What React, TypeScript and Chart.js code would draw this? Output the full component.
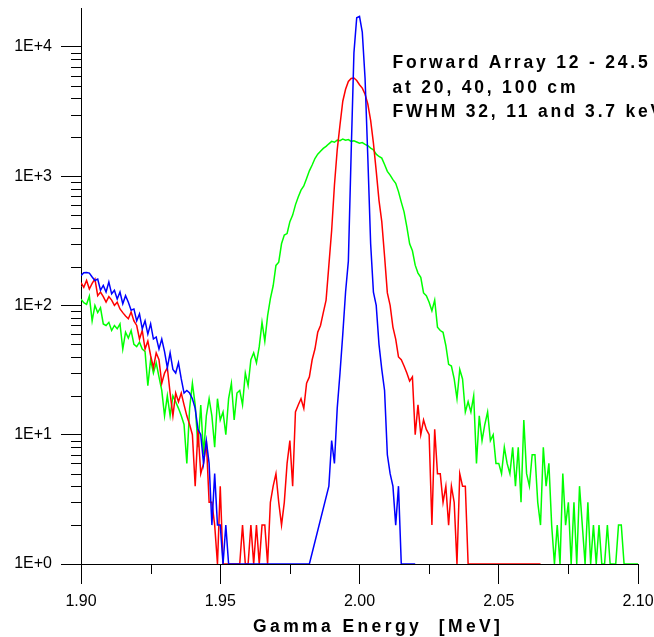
import React, { useEffect, useRef } from "react";
import { Chart, registerables } from "chart.js";

Chart.register(...registerables);

// Spectra: counts per 1 keV bin, first bin at 1.900 MeV
const BIN_START = 1.9;
const BIN_WIDTH = 0.001;

// 20 cm, FWHM 3.7 keV (blue)
const blueCounts: (number | null)[] = [
  170, 179, 180, 178, 166, 156, 160, 131, 143, 127,
  152, 123, 131, 112, 127, 103, 119, 106, 92, 94,
  76, 86, 66, 76, 60, 72, 55, 57, 46, 55,
  44, 33, 43, 32, 30, 36, 27, 21, 22, 21,
  19, 16, 11, 10, 6, 9, 6, 2, 5, 2,
  2, 1, 2, 1, 1, 1, 1, 1, 1, 1,
  1, 1, 1, 1, 1, 1, 1, 1, 1, 1,
  1, 1, 1, 1, 1, 1, 1, 1, 1, 1,
  1, 1, 1, null, null, null, null, null, null, 4,
  9, 6, 16, 30, 60, 127, 220, 1500, 9000, 16800,
  17200, 13000, 5700, 1370, 300, 127, 100, 50, 32, 22,
  7, 5, 4, 2, 4, 1, 1, 1, 1, 1, 1,
];

// 40 cm, FWHM 11 keV (red)
const redCounts: number[] = [
  150, 138, 156, 134, 148, 160, 119, 127, 117, 106,
  117, 110, 100, 106, 94, 88, 83, 79, 89, 76,
  70, 55, 64, 46, 53, 41, 33, 43, 38, 25,
  30, 33, 21, 14, 21, 18, 21, 17, 14, 12,
  10, 4, 11, 5, 6, 9, 3, 3, 2, 1,
  4, 1, 1, 1, 1, 1, 1, 1, 2, 1,
  1, 2, 1, 2, 1, 2, 2, 1, 3, 4,
  5, 3, 2, 3, 6, 9, 4, 15, 17, 19,
  16, 25, 28, 38, 46, 62, 70, 88, 110, 204,
  380, 850, 1600, 2500, 3800, 4700, 5400, 5700, 5750, 5500,
  5100, 4800, 4300, 3600, 2700, 1800, 1100, 650, 445, 240,
  125, 100, 68, 55, 40, 38, 34, 30, 26, 28,
  10, 17, 10, 13, 11, 10, 2, 11, 5, 5,
  3, 4, 2, 4, 3, 1, 5, 4, 4, 1,
  1, 1, 1, 1, 1, 1, 1, 1, 1, 1,
  1, 1, 1, 1, 1, 1, 1, 1, 1, 1,
  1, 1, 1, 1, 1, 1,
];

// 100 cm, FWHM 32 keV (green)
const greenCounts: number[] = [
  112, 105, 102, 118, 76, 100, 88, 96, 72, 70,
  74, 64, 70, 66, 72, 46, 62, 56, 64, 50,
  48, 52, 46, 44, 24, 38, 30, 36, 28, 22,
  14, 20, 14, 20, 18, 16, 14, 12, 6, 16,
  25, 17, 8, 17, 7, 14, 19, 14, 8, 19,
  13, 15, 10, 19, 25, 13, 21, 22, 17, 30,
  24, 38, 43, 36, 48, 74, 53, 83, 113, 142,
  204, 216, 300, 350, 360, 445, 500, 600, 690, 780,
  840, 960, 1100, 1220, 1370, 1480, 1560, 1640, 1700, 1780,
  1860, 1830, 1900, 1880, 1940, 1900, 1920, 1860, 1880, 1840,
  1800, 1820, 1760, 1720, 1650, 1600, 1480, 1420, 1380, 1230,
  1090, 1020, 940, 880, 760, 630, 530, 405, 300, 265,
  205, 178, 165, 125, 119, 106, 91, 110, 68, 64,
  62, 49, 35, 34, 27, 19, 32, 27, 15, 18,
  15, 20, 6, 14, 9, 12, 15, 9, 10, 6,
  6, 5, 8, 6, 5, 8, 4, 8, 3, 13,
  5, 4, 7, 7, 3, 2, 8, 4, 6, 2,
  1, 2, 1, 5, 2, 3, 1, 3, 1, 4,
  2, 1, 3, 1, 2, 1, 2, 1, 1, 2,
  1, 1, 1, 2, 2, 1, 1, 1, 1, 1,
  1,
];

const xTickValues = [1.9, 1.95, 2.0, 2.05, 2.1];
const xTickLabels = ["1.90", "1.95", "2.00", "2.05", "2.10"];
const xMinorTicks = [1.925, 1.975, 2.025, 2.075];
const yTickValues = [1, 10, 100, 1000, 10000];
const yTickLabels = ["1E+0", "1E+1", "1E+2", "1E+3", "1E+4"];
const yMinorMultipliers = [2, 3, 4, 5, 6, 7, 8, 9];
const annotationLines = [
  "Forward Array 12 - 24.5",
  "at 20, 40, 100 cm",
  "FWHM 32, 11 and 3.7 keV",
];
const xAxisTitle = "Gamma Energy  [MeV]";

const FONT = "'Liberation Sans', Arial, Helvetica, sans-serif";

function toPoints(counts: (number | null)[]) {
  return counts.map((v, i) => ({ x: BIN_START + i * BIN_WIDTH, y: v }));
}

const decorations = {
  id: "decorations",
  afterDraw(chart: any) {
    const { ctx, chartArea, scales } = chart;
    const xs = scales.x;
    const ys = scales.y;
    ctx.save();
    ctx.strokeStyle = "#000";
    ctx.lineWidth = 1;
    ctx.beginPath();
    for (const v of xMinorTicks) {
      const px = Math.round(xs.getPixelForValue(v)) + 0.5;
      ctx.moveTo(px, chartArea.bottom);
      ctx.lineTo(px, chartArea.bottom + 10);
    }
    for (const d of yTickValues.slice(0, -1)) {
      for (const m of yMinorMultipliers) {
        const py = Math.round(ys.getPixelForValue(d * m)) + 0.5;
        ctx.moveTo(chartArea.left - 10, py);
        ctx.lineTo(chartArea.left, py);
      }
    }
    ctx.stroke();

    ctx.fillStyle = "#000";
    ctx.textAlign = "left";
    ctx.textBaseline = "alphabetic";
    ctx.font = `bold 17.5px ${FONT}`;
    (ctx as any).letterSpacing = "2.8px";
    const baselines = [68, 92.5, 116.5];
    annotationLines.forEach((t, i) => ctx.fillText(t, 392.5, baselines[i]));
    (ctx as any).letterSpacing = "3.4px";
    ctx.fillText(xAxisTitle, 253, 632);
    ctx.restore();
  },
};

export default function App() {
  const ref = useRef<HTMLCanvasElement | null>(null);
  useEffect(() => {
    if (!ref.current) return;
    const chart = new Chart(ref.current, {
      type: "line",
      data: {
        datasets: [
          { label: "20 cm", data: toPoints(blueCounts), borderColor: "#0000ff" },
          { label: "40 cm", data: toPoints(redCounts), borderColor: "#ff0000" },
          { label: "100 cm", data: toPoints(greenCounts), borderColor: "#00ff00" },
        ].map((d) => ({
          ...d,
          borderWidth: 1.5,
          pointRadius: 0,
          tension: 0,
          fill: false,
          spanGaps: true,
        })) as any,
      },
      plugins: [decorations],
      options: {
        animation: false,
        responsive: false,
        devicePixelRatio: 1,
        layout: { padding: { top: 8, right: 16, left: 0, bottom: 0 } },
        plugins: {
          legend: { display: false },
          tooltip: { enabled: false },
          title: { display: false },
        },
        scales: {
          x: {
            type: "linear",
            min: 1.9,
            max: 2.1,
            afterBuildTicks: (s: any) => {
              s.ticks = xTickValues.map((v) => ({ value: v }));
            },
            afterFit: (s: any) => {
              s.height = 73;
              s.paddingLeft = 0;
              s.paddingRight = 0;
            },
            ticks: {
              callback: (_v: any, i: number) => xTickLabels[i],
              color: "#000",
              font: { family: FONT, size: 16 },
              padding: 8,
              maxRotation: 0,
              autoSkip: false,
            },
            grid: {
              display: true,
              drawOnChartArea: false,
              drawTicks: true,
              tickLength: 20,
              tickColor: "#000",
              tickWidth: 1,
              color: "#000",
            },
            border: { display: true, color: "#000", width: 1 },
          },
          y: {
            type: "logarithmic",
            min: 1,
            max: 20000,
            afterBuildTicks: (s: any) => {
              s.ticks = yTickValues.map((v) => ({ value: v, major: true }));
            },
            afterFit: (s: any) => {
              s.width = 81;
              s.paddingTop = 0;
              s.paddingBottom = 0;
            },
            ticks: {
              callback: (_v: any, i: number) => yTickLabels[i],
              color: "#000",
              font: { family: FONT, size: 16 },
              padding: 9,
              autoSkip: false,
            },
            grid: {
              display: true,
              drawOnChartArea: false,
              drawTicks: true,
              tickLength: 20,
              tickColor: "#000",
              tickWidth: 1,
              color: "#000",
            },
            border: { display: true, color: "#000", width: 1 },
          },
        },
      },
    });
    return () => chart.destroy();
  }, []);

  return (
    <div style={{ position: "fixed", left: 0, top: 0, width: 654, height: 637, background: "#fff" }}>
      <canvas ref={ref} width={654} height={637} style={{ display: "block" }} />
    </div>
  );
}
